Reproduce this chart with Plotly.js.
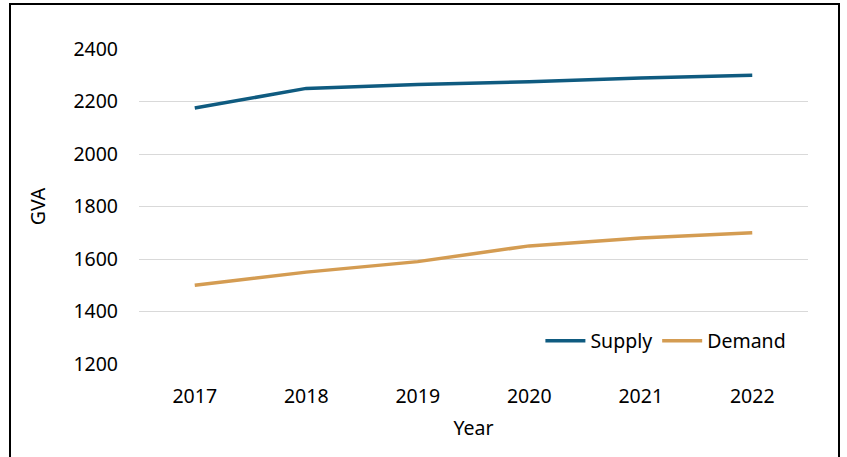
<!DOCTYPE html>
<html><head><meta charset="utf-8">
<script src="https://cdn.plot.ly/plotly-3.0.1.min.js"></script>
<style>
html,body{margin:0;padding:0;background:#fff;}
#wrap{position:relative;width:847px;height:457px;overflow:hidden;}
#chart{width:847px;height:457px;}
#frame{position:absolute;left:9px;top:3px;width:827px;height:470px;border:2px solid #000;pointer-events:none;}
</style></head>
<body><div id="wrap"><div id="chart"></div><div id="frame"></div></div>
<script>
const years = ['2017','2018','2019','2020','2021','2022'];
const supply = [2175, 2250, 2265, 2275, 2290, 2300];
const demand = [1500, 1550, 1590, 1650, 1680, 1700];
const yTicks = [1200, 1400, 1600, 1800, 2000, 2200, 2400];

const font = {family: 'Noto Sans, Open Sans, sans-serif', size: 19.5, color: '#000'};
const traces = [
  {x: years, y: supply, name: 'Supply', type: 'scatter', mode: 'lines',
   line: {color: '#0f5b80', width: 3.5}},
  {x: years, y: demand, name: 'Demand', type: 'scatter', mode: 'lines',
   line: {color: '#d49c52', width: 3.5}}
];
const layout = {
  width: 847, height: 457,
  margin: {l: 139, r: 39, t: 49, b: 93},
  paper_bgcolor: '#fff', plot_bgcolor: '#fff',
  font: font,
  showlegend: true,
  legend: {orientation: 'h', x: 0.6, xanchor: 'left', y: 0.073, yanchor: 'middle',
           font: font, bgcolor: 'rgba(0,0,0,0)', itemwidth: 40, tracegroupgap: 0},
  xaxis: {type: 'category', range: [-0.5, 5.5], showgrid: false, zeroline: false,
          showline: false, ticks: '', ticklabelstandoff: 18, tickfont: font,
          title: {text: 'Year', font: font, standoff: 13}},
  yaxis: {range: [1200, 2400], tickvals: yTicks, showgrid: true, gridcolor: '#d9d9d9',
          gridwidth: 1, zeroline: false, showline: false, ticks: '', ticklabelstandoff: 20,
          tickfont: font, title: {text: 'GVA', font: font, standoff: 22}}
};
Plotly.newPlot('chart', traces, layout, {displayModeBar: false, staticPlot: true});
</script></body></html>
